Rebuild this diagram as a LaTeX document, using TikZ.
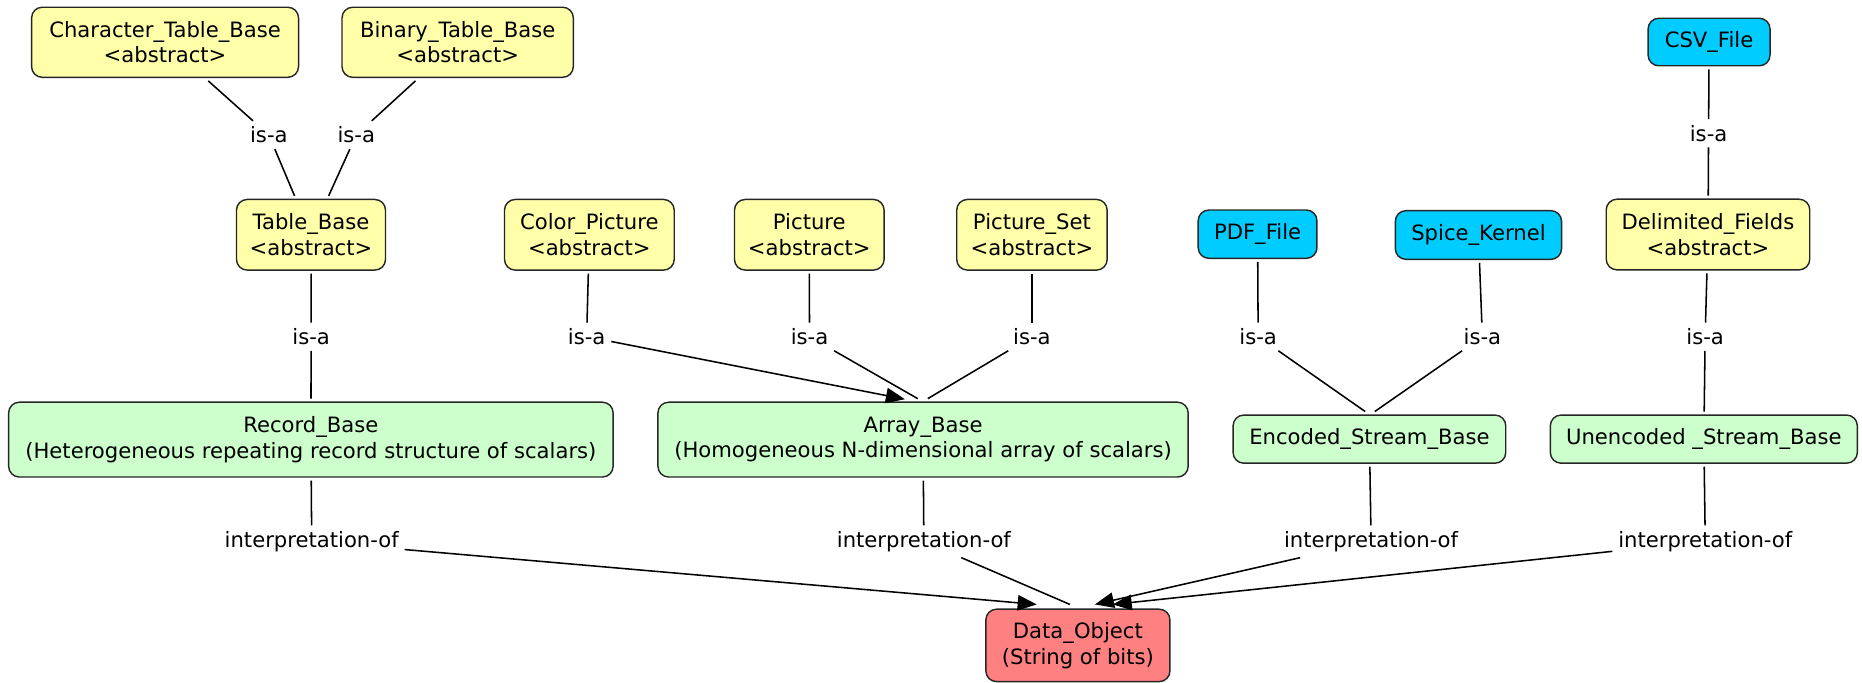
\documentclass[tikz,border=0pt]{standalone}
\usepackage{fontspec}
\setmainfont{DejaVu Sans}
\usetikzlibrary{arrows.meta,calc}
\definecolor{ylw}{RGB}{255,255,170}
\definecolor{grn}{RGB}{204,255,204}
\definecolor{cyn}{RGB}{0,204,255}
\definecolor{sal}{RGB}{255,128,128}
\begin{document}
\begin{tikzpicture}[x=1pt,y=-1pt,
  font=\fontsize{17.8}{21.6}\selectfont,
  box/.style={draw=black!85, line width=1.2pt, rounded corners=9pt, inner sep=0pt, outer sep=3pt, align=center},
  yb/.style={box, fill=ylw},
  gb/.style={box, fill=grn},
  cb/.style={box, fill=cyn},
  rb/.style={box, fill=sal},
  lbl/.style={inner sep=5pt, outer sep=0pt},
  conn/.style={line width=1.3pt},
  arr/.style={conn, -{Triangle[length=16pt,width=13pt]}}]
\fill[white] (0,0) rectangle (1568,575);
\useasboundingbox (0,0) rectangle (1568,575);
% top row
\node[yb, minimum width=224.8pt, minimum height=59pt] (charT) at (139,35.6) {Character\_Table\_Base\\<abstract>};
\node[yb, minimum width=194.8pt, minimum height=59pt] (binT) at (385.4,35.6) {Binary\_Table\_Base\\<abstract>};
\node[cb, minimum width=102.7pt, minimum height=40pt] (csv) at (1439.2,35.4) {CSV\_File};
% second row
\node[yb, minimum width=125.5pt, minimum height=59.5pt] (tabB) at (261.9,197.7) {Table\_Base\\<abstract>};
\node[yb, minimum width=142.9pt, minimum height=59.5pt] (colP) at (496.3,197.7) {Color\_Picture\\<abstract>};
\node[yb, minimum width=126pt, minimum height=59.5pt] (pic) at (681.5,197.7) {Picture\\<abstract>};
\node[yb, minimum width=126.7pt, minimum height=59.5pt] (picS) at (869,197.7) {Picture\_Set\\<abstract>};
\node[cb, minimum width=100pt, minimum height=40.7pt] (pdf) at (1059,197.2) {PDF\_File};
\node[cb, minimum width=140pt, minimum height=41pt] (spice) at (1245,197.9) {Spice\_Kernel};
\node[yb, minimum width=171.4pt, minimum height=59.5pt] (delim) at (1438.3,197.5) {Delimited\_Fields\\<abstract>};
% third row
\node[gb, minimum width=509pt, minimum height=63pt] (recB) at (261.8,370.2) {Record\_Base\\(Heterogeneous repeating record structure of scalars)};
\node[gb, minimum width=446.5pt, minimum height=63pt] (arrB) at (777.3,370.2) {Array\_Base\\(Homogeneous N-dimensional array of scalars)};
\node[gb, minimum width=229.6pt, minimum height=40.5pt] (encB) at (1153.2,369.8) {Encoded\_Stream\_Base};
\node[gb, minimum width=258.5pt, minimum height=40.5pt] (unB) at (1434.8,369.8) {Unencoded \_Stream\_Base};
% bottom
\node[rb, minimum width=155pt, minimum height=61pt] (dataO) at (907.7,543.5) {Data\_Object\\(String of bits)};
% labels
\node[lbl] (isa1) at (226.4,113.7) {is-a};
\node[lbl] (isa2) at (300,113.7) {is-a};
\node[lbl] (isaCSV) at (1438.8,112.3) {is-a};
\node[lbl] (isaT) at (262,283.5) {is-a};
\node[lbl] (isaC) at (494,283.5) {is-a};
\node[lbl] (isaPic) at (681.7,283.5) {is-a};
\node[lbl] (isaPS) at (869,283.5) {is-a};
\node[lbl] (isaP) at (1059.5,283.5) {is-a};
\node[lbl] (isaS) at (1248.3,283.5) {is-a};
\node[lbl] (isaD) at (1435.9,283.5) {is-a};
\node[lbl] (intR) at (262.5,456) {interpretation-of};
\node[lbl] (intA) at (778,456) {interpretation-of};
\node[lbl] (intE) at (1154.6,456) {interpretation-of};
\node[lbl] (intU) at (1436,456) {interpretation-of};
% connectors
\draw[conn] (charT) -- (isa1);
\draw[conn] (isa1) -- (tabB);
\draw[conn] (binT) -- (isa2);
\draw[conn] (isa2) -- (tabB);
\draw[conn] (tabB) -- (isaT);
\draw[conn] (isaT) -- (recB);
\draw[conn] (colP) -- (isaC);
\draw[arr] (isaC) -- ($(arrB.north)+(-15.3,0.5)$);
\draw[conn] (pic) -- (isaPic);
\draw[conn] (isaPic) -- ($(arrB.north)+(-4.5,0)$);
\draw[conn] (picS) -- (isaPS);
\draw[conn] (isaPS) -- ($(arrB.north)+(4,0)$);
\draw[conn] (pdf) -- (isaP);
\draw[conn] (isaP) -- ($(encB.north)+(-3.6,0)$);
\draw[conn] (spice) -- (isaS);
\draw[conn] (isaS) -- ($(encB.north)+(4.5,0)$);
\draw[conn] (csv) -- (isaCSV);
\draw[conn] (isaCSV) -- (delim);
\draw[conn] (delim) -- (isaD);
\draw[conn] (isaD) -- (unB);
\draw[conn] (recB) -- (intR);
\draw[arr] (intR) -- ($(dataO.north)+(-34.7,-1)$);
\draw[conn] (arrB) -- (intA);
\draw[conn] (intA) -- ($(dataO.north)+(-6.7,-1)$);
\draw[conn] (encB) -- (intE);
\draw[arr] (intE) -- ($(dataO.north)+(14.3,-1)$);
\draw[conn] (unB) -- (intU);
\draw[arr] (intU) -- ($(dataO.north)+(29.3,-1)$);
\end{tikzpicture}
\end{document}
